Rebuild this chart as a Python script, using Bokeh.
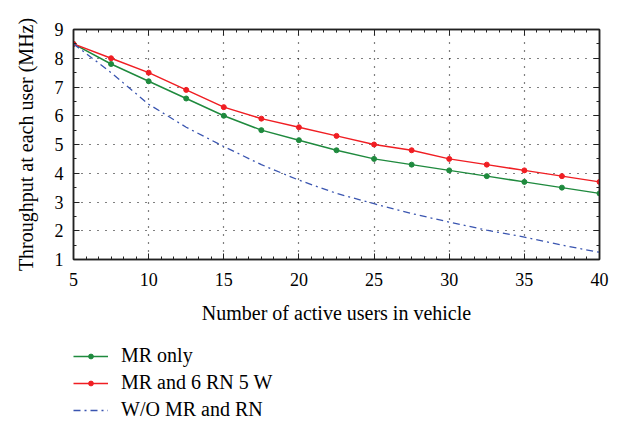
from bokeh.plotting import figure
from bokeh.layouts import column
from bokeh.models import (Legend, LegendItem, LinearAxis, SingleIntervalTicker, Range1d)
from bokeh.embed import file_html
from bokeh.resources import INLINE

users = [5, 7.5, 10, 12.5, 15, 17.5, 20, 22.5, 25, 27.5, 30, 32.5, 35, 37.5, 40]
mr_only = [8.5, 7.8, 7.2, 6.6, 6.0, 5.5, 5.15, 4.8, 4.5, 4.3, 4.1, 3.9, 3.7, 3.5, 3.3]
mr_rn = [8.5, 8.0, 7.5, 6.9, 6.3, 5.9, 5.6, 5.3, 5.0, 4.8, 4.5, 4.3, 4.1, 3.9, 3.7]
wo_mr_rn = [8.5, 7.5, 6.4, 5.6, 4.93, 4.3, 3.76, 3.3, 2.94, 2.6, 2.3, 2.02, 1.78, 1.5, 1.25]

labels = ["MR only", "MR and 6 RN 5 W", "W/O MR and RN"]
FONT = "Liberation Serif"

green = "#1f8a3e"
red = "#f01e23"
blue = "#3a55b0"
blue_dash = "7 4 2 4"

p = figure(width=620, height=330, output_backend="svg", toolbar_location=None,
           x_range=Range1d(5, 40), y_range=Range1d(1, 9),
           min_border_left=73, min_border_right=21, min_border_top=29, min_border_bottom=71)
p.background_fill_color = "white"
p.border_fill_color = "white"
p.outline_line_color = "#222222"
p.outline_line_width = 1.5

xt = SingleIntervalTicker(interval=5, num_minor_ticks=6)
yt = SingleIntervalTicker(interval=1, num_minor_ticks=2)
p.xaxis.ticker = xt
p.yaxis.ticker = yt
p.xgrid.ticker = xt
p.ygrid.ticker = yt

for ax in (p.xaxis[0], p.yaxis[0]):
    ax.major_tick_in = 6
    ax.major_tick_out = 0
    ax.minor_tick_in = 3
    ax.minor_tick_out = 0
    ax.axis_line_color = "#222222"
    ax.axis_line_width = 1.5
    ax.major_tick_line_color = "#222222"
    ax.minor_tick_line_color = "#222222"
    ax.major_label_text_font = FONT
    ax.major_label_text_font_size = "18px"
    ax.major_label_text_color = "black"
    ax.axis_label_text_font = FONT
    ax.axis_label_text_font_size = "20px"
    ax.axis_label_text_font_style = "normal"
    ax.axis_label_text_color = "black"

p.xaxis.axis_label = "Number of active users in vehicle"
p.yaxis.axis_label = "Throughput at each user (MHz)"
p.xaxis.major_label_standoff = 13
p.yaxis.major_label_standoff = 10
p.xaxis.axis_label_standoff = 13
p.yaxis.axis_label_standoff = 15

for loc, tk in (("right", yt), ("above", xt)):
    ax = LinearAxis(ticker=tk, major_tick_in=6, major_tick_out=0, minor_tick_in=3,
                    minor_tick_out=0, major_label_text_font_size="0px",
                    axis_line_color="#222222", axis_line_width=1.5,
                    major_tick_line_color="#222222", minor_tick_line_color="#222222",
                    major_label_standoff=0)
    p.add_layout(ax, loc)

for g in (p.xgrid[0], p.ygrid[0]):
    g.grid_line_color = "black"
    g.grid_line_dash = "1 7"
    g.grid_line_width = 1.2

p.line(users, mr_only, line_color=green, line_width=1.5)
p.scatter(users, mr_only, marker="circle", size=5, color=green)
p.line(users, mr_rn, line_color=red, line_width=1.5)
p.scatter(users, mr_rn, marker="circle", size=5, color=red)
p.line(users, wo_mr_rn, line_color=blue, line_width=1.3, line_dash=blue_dash)

# Legend panel below the chart (swatch renderers sit outside the visible range)
p2 = figure(width=620, height=91, output_backend="svg", toolbar_location=None,
            x_axis_type=None, y_axis_type=None, min_border=0,
            min_border_left=73, min_border_right=21,
            x_range=Range1d(0, 1), y_range=Range1d(0, 1))
p2.outline_line_color = None
p2.grid.visible = False
off_x = [-10, -9]
off_y = [-10, -10]
l1 = p2.line(off_x, off_y, line_color=green, line_width=1.5)
l1m = p2.scatter(off_x, off_y, marker="circle", size=5, color=green)
l2 = p2.line(off_x, off_y, line_color=red, line_width=1.5)
l2m = p2.scatter(off_x, off_y, marker="circle", size=5, color=red)
l3 = p2.line(off_x, off_y, line_color=blue, line_width=1.3, line_dash=blue_dash)

legend = Legend(items=[LegendItem(label=labels[0], renderers=[l1, l1m]),
                       LegendItem(label=labels[1], renderers=[l2, l2m]),
                       LegendItem(label=labels[2], renderers=[l3])],
                location="bottom_left", orientation="vertical",
                border_line_color=None, background_fill_alpha=0,
                padding=0, margin=0, spacing=4,
                glyph_width=35, glyph_height=12, label_height=20,
                label_standoff=13, label_text_font=FONT,
                label_text_font_size="20px", label_text_color="black")
p2.add_layout(legend, "center")

open("out.html", "w").write(file_html(column(p, p2, spacing=0), INLINE))
